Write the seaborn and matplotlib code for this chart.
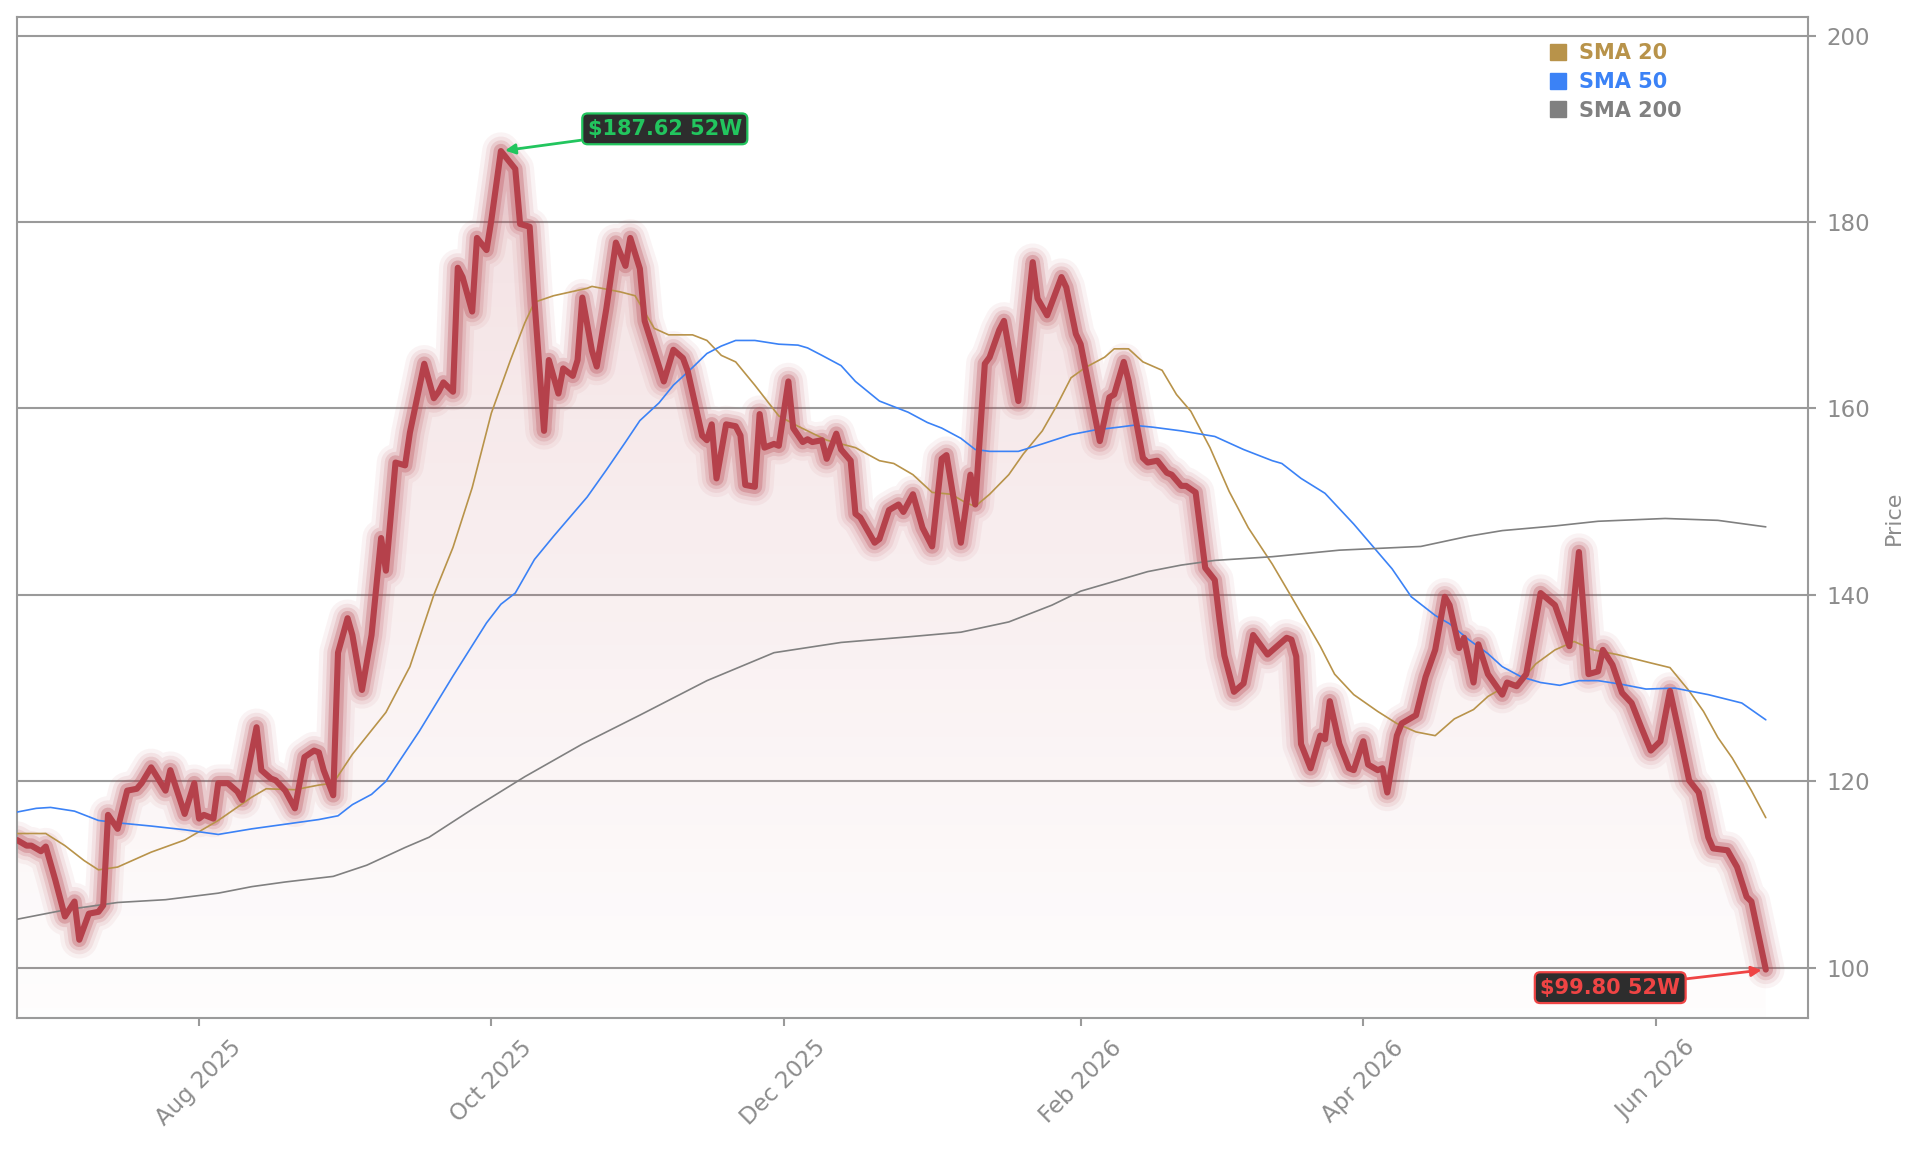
import matplotlib
matplotlib.use("Agg")
import matplotlib.pyplot as plt
import matplotlib.dates as mdates
from matplotlib.colors import to_rgb
from matplotlib.lines import Line2D
import numpy as np
import pandas as pd
import seaborn as sns

# ---- data ----
start_date = "2025-06-24"

price_day = [0, 2, 3, 5, 6, 8, 10, 12, 13, 15, 17, 18, 19, 21, 23, 25, 26, 28, 31, 32,
             35, 37, 38, 39, 41, 42, 44, 46, 47, 50, 51, 53, 54, 56, 58, 60, 62, 63, 64, 66,
             67, 69, 70, 72, 74, 76, 77, 79, 81, 82, 85, 87, 88, 89, 91, 92, 93, 95, 96, 98,
             99, 101, 104, 105, 107, 108, 110, 111, 113, 114, 116, 117, 118, 120, 121, 123, 125, 127, 128, 130,
             131, 135, 137, 139, 140, 143, 144, 145, 146, 148, 150, 151, 152, 154, 155, 156, 158, 159, 161, 162,
             164, 165, 166, 168, 169, 171, 172, 174, 175, 176, 179, 180, 182, 184, 185, 187, 189, 191, 193, 194,
             197, 199, 200, 202, 203, 205, 206, 209, 212, 213, 215, 218, 219, 221, 222, 226, 228, 229, 231, 232,
             235, 236, 238, 240, 241, 243, 244, 246, 248, 250, 251, 252, 254, 256, 258, 261, 265, 266, 267, 268,
             270, 272, 273, 274, 276, 278, 279, 281, 282, 284, 285, 286, 288, 289, 292, 294, 296, 298, 299, 301,
             302, 304, 305, 307, 310, 311, 313, 315, 318, 321, 324, 326, 328, 330, 331, 333, 335, 337, 339, 341,
             343, 345, 347, 349, 351, 353, 354, 357, 359, 361, 362, 365]
price_val = [113.7, 113.1, 113.1, 112.5, 113.0, 109.4, 105.5, 107.1, 103.0, 105.8, 106.0, 106.7, 116.4, 114.9, 119.0, 119.2, 119.8, 121.5, 119.0, 121.2,
             116.5, 119.8, 116.0, 116.4, 116.0, 119.8, 119.8, 118.9, 118.0, 125.8, 121.2, 120.3, 120.1, 119.0, 117.1, 122.6, 123.3, 123.1, 121.2, 118.5,
             133.8, 137.5, 135.7, 129.8, 135.7, 146.1, 142.6, 154.2, 153.9, 157.4, 164.8, 161.1, 161.8, 162.8, 161.8, 175.1, 174.1, 170.4, 178.3, 177.0,
             180.2, 187.62, 185.7, 179.8, 179.5, 171.6, 157.6, 165.2, 161.6, 164.3, 163.5, 165.2, 171.9, 166.2, 164.5, 170.7, 177.8, 175.3, 178.3, 175.0,
             169.4, 162.9, 166.3, 165.4, 164.0, 157.1, 156.6, 158.3, 152.5, 158.3, 158.1, 157.1, 151.8, 151.6, 159.4, 155.8, 156.2, 156.0, 162.9, 157.9,
             156.4, 156.7, 156.4, 156.6, 154.6, 157.3, 155.6, 154.4, 148.7, 148.3, 145.6, 146.0, 149.1, 149.7, 148.9, 150.8, 147.2, 145.2, 154.6, 155.0,
             145.6, 152.9, 149.7, 164.8, 165.5, 168.4, 169.4, 160.8, 175.7, 171.8, 170.0, 174.1, 173.0, 168.0, 166.9, 156.5, 161.2, 161.5, 165.0, 163.0,
             154.7, 154.2, 154.4, 153.1, 152.9, 151.7, 151.7, 151.0, 142.9, 141.6, 137.3, 133.5, 129.6, 130.5, 135.7, 133.6, 135.4, 135.2, 133.4, 124.0,
             121.4, 124.9, 124.5, 128.6, 124.0, 121.4, 121.2, 124.3, 121.8, 121.2, 121.4, 118.8, 124.9, 126.2, 127.1, 131.2, 134.1, 139.8, 138.9, 134.3,
             135.4, 130.6, 134.7, 131.5, 129.3, 130.6, 130.2, 131.5, 140.2, 138.9, 134.5, 144.6, 131.5, 131.8, 134.1, 132.5, 129.5, 128.4, 125.8, 123.3,
             124.3, 129.7, 125.0, 120.1, 118.8, 114.0, 112.8, 112.6, 110.8, 107.6, 107.1, 99.8]

sma20_day = [0, 6, 10, 14, 17, 21, 28, 35, 42, 49, 52, 58, 63, 66, 70, 77, 82, 87, 91, 95,
             99, 103, 106, 108, 112, 119, 120, 126, 129, 133, 136, 141, 144, 147, 150, 154, 159, 163, 169, 175,
             180, 183, 187, 191, 195, 198, 200, 203, 207, 210, 214, 217, 220, 223, 227, 229, 232, 235, 239, 242,
             245, 249, 253, 257, 262, 266, 272, 275, 279, 284, 288, 292, 296, 300, 304, 307, 310, 314, 317, 321,
             325, 329, 334, 341, 345, 349, 352, 355, 358, 362, 365]
sma20_val = [114.4, 114.4, 113.1, 111.5, 110.5, 110.8, 112.4, 113.7, 115.8, 118.3, 119.2, 119.1, 119.6, 119.8, 122.9, 127.4, 132.3, 140.0, 145.1, 151.5,
             159.5, 165.2, 169.2, 171.4, 172.1, 172.9, 173.1, 172.5, 172.1, 168.6, 167.9, 167.9, 167.3, 165.7, 165.0, 162.5, 159.2, 158.1, 156.6, 155.8,
             154.4, 154.1, 152.9, 151.0, 150.8, 149.9, 149.5, 150.8, 152.9, 155.1, 157.6, 160.3, 163.3, 164.4, 165.5, 166.4, 166.4, 165.0, 164.1, 161.5,
             159.7, 155.8, 151.1, 147.2, 143.3, 139.8, 134.5, 131.5, 129.3, 127.5, 126.2, 125.3, 124.9, 126.7, 127.7, 129.1, 130.0, 130.8, 132.6, 134.1,
             135.0, 134.1, 133.6, 132.7, 132.2, 129.7, 127.5, 124.7, 122.5, 119.0, 116.1]

sma50_day = [0, 4, 7, 12, 17, 22, 28, 35, 42, 49, 56, 63, 67, 70, 74, 77, 84, 91, 98, 101,
             104, 108, 112, 119, 123, 127, 130, 134, 137, 141, 144, 147, 150, 154, 159, 163, 165, 168, 172, 175,
             180, 182, 186, 190, 193, 197, 200, 203, 209, 214, 220, 225, 230, 233, 237, 243, 250, 256, 262, 264,
             268, 273, 279, 283, 287, 291, 296, 299, 303, 307, 310, 314, 318, 322, 326, 330, 335, 340, 346, 353,
             360, 365]
sma50_val = [116.7, 117.1, 117.2, 116.8, 115.8, 115.5, 115.2, 114.8, 114.3, 114.9, 115.4, 115.9, 116.3, 117.5, 118.6, 120.0, 125.4, 131.3, 137.0, 139.0,
             140.2, 143.8, 146.3, 150.5, 153.4, 156.4, 158.7, 160.6, 162.5, 164.4, 165.9, 166.7, 167.3, 167.3, 166.9, 166.8, 166.5, 165.7, 164.6, 162.9,
             160.8, 160.4, 159.6, 158.5, 157.9, 156.8, 155.6, 155.4, 155.4, 156.2, 157.2, 157.7, 158.0, 158.2, 158.0, 157.6, 157.0, 155.6, 154.4, 154.1,
             152.5, 150.9, 147.6, 145.2, 142.8, 139.8, 137.8, 136.9, 135.2, 133.7, 132.3, 131.2, 130.6, 130.3, 130.8, 130.8, 130.4, 129.9, 130.0, 129.3,
             128.4, 126.6]

sma200_day = [0, 10, 21, 31, 42, 49, 56, 66, 73, 81, 86, 95, 106, 118, 130, 144, 158, 172, 186, 197,
              207, 216, 222, 230, 236, 243, 250, 262, 276, 293, 303, 310, 321, 330, 344, 355, 365]
sma200_val = [105.2, 106.2, 107.0, 107.3, 108.0, 108.7, 109.2, 109.8, 111.0, 112.9, 114.0, 117.0, 120.5, 124.0, 127.1, 130.8, 133.8, 134.9, 135.5, 136.0,
              137.1, 138.9, 140.4, 141.6, 142.5, 143.2, 143.7, 144.1, 144.8, 145.2, 146.3, 146.9, 147.4, 147.9, 148.2, 148.0, 147.3]

sma_labels = ["SMA 20", "SMA 50", "SMA 200"]
sma_colors = ["#b8934a", "#3b82f6", "#808080"]
price_color = "#b5414b"
high_label = "$187.62 52W"
low_label = "$99.80 52W"
y_ticks = [100, 120, 140, 160, 180, 200]

# ---- style ----
grey = "#8c8c8c"
line_grey = "#9a9a9a"
sns.set_theme(style="white")
plt.rcParams["font.family"] = ["DejaVu Sans"]


def to_dates(days):
    return pd.Timestamp(start_date) + pd.to_timedelta(days, unit="D")


price_df = pd.DataFrame({"Date": to_dates(price_day), "Price": price_val})
sma_dfs = [
    pd.DataFrame({"Date": to_dates(sma20_day), "Value": sma20_val}),
    pd.DataFrame({"Date": to_dates(sma50_day), "Value": sma50_val}),
    pd.DataFrame({"Date": to_dates(sma200_day), "Value": sma200_val}),
]

fig = plt.figure(figsize=(19.21, 11.51), dpi=100)
ax = fig.add_axes([0.00885, 0.1155, 0.9323, 0.8697])

y_low, y_high = 94.6, 202.0

# glow around the price line
for lw, a in [(27, 0.06), (21, 0.09), (15.5, 0.15), (10.5, 0.27)]:
    sns.lineplot(data=price_df, x="Date", y="Price", color=price_color, lw=lw, alpha=a,
                 ax=ax, legend=False, zorder=2, solid_joinstyle="round", solid_capstyle="round")

for df, c in zip(sma_dfs, sma_colors):
    sns.lineplot(data=df, x="Date", y="Value", color=c, lw=1.2, ax=ax, legend=False, zorder=3)

sns.lineplot(data=price_df, x="Date", y="Price", color=price_color, lw=4.4, ax=ax,
             legend=False, zorder=4, solid_joinstyle="round")

# gradient fill under the price line
xnum = mdates.date2num(price_df["Date"])
grad = np.zeros((256, 1, 4))
grad[..., :3] = to_rgb(price_color)
grad[..., 3] = np.linspace(0.01, 0.16, 256)[:, None]
im = ax.imshow(grad, extent=[xnum[0], xnum[-1], y_low, max(price_val)], origin="lower",
               aspect="auto", zorder=1)
poly = ax.fill_between(xnum, price_val, y_low, facecolor="none", edgecolor="none")
im.set_clip_path(poly.get_paths()[0], transform=ax.transData)

ax.set_xlim(pd.Timestamp(start_date), pd.Timestamp(start_date) + pd.Timedelta(days=373.8))
ax.set_ylim(y_low, y_high)

# axes styling
ax.set_facecolor("white")
ax.yaxis.tick_right()
ax.yaxis.set_label_position("right")
ax.set_yticks(y_ticks)
ax.yaxis.grid(True, color=line_grey, lw=1.5)
ax.xaxis.grid(False)
ax.set_axisbelow(True)
for s in ax.spines.values():
    s.set_color(line_grey)
    s.set_linewidth(1.5)
ax.tick_params(axis="both", length=6, width=1.5, color=line_grey, labelcolor=grey,
               labelsize=16.5, pad=7, bottom=True, right=True, left=False)
ax.xaxis.set_major_locator(mdates.MonthLocator(bymonth=[2, 4, 6, 8, 10, 12]))
ax.xaxis.set_major_formatter(mdates.DateFormatter("%b %Y"))
plt.setp(ax.get_xticklabels(), rotation=45)
ax.set_xlabel("")
ax.set_ylabel("Price", fontsize=16, color=grey, labelpad=10)

# legend
handles = [Line2D([], [], marker="s", linestyle="none", color=c, markersize=12) for c in sma_colors]
leg = ax.legend(handles, sma_labels, loc="upper left", bbox_to_anchor=(0.8545, 0.974),
                frameon=False, borderpad=0, borderaxespad=0, handlelength=1.0,
                handletextpad=0.5, labelspacing=0.42,
                prop={"size": 15, "weight": "bold"})
for t, c in zip(leg.get_texts(), sma_colors):
    t.set_color(c)

# 52-week high / low tags
hi_i = int(np.argmax(price_val))
lo_i = len(price_val) - 1
ax.annotate(high_label, xy=(price_df["Date"][hi_i], price_val[hi_i]), xytext=(118, 16),
            textcoords="offset points", ha="center", va="center", fontsize=15,
            fontweight="bold", color="#22c55e", zorder=6,
            bbox=dict(boxstyle="round,pad=0.26", fc="#2d2d2d", ec="#22c55e", lw=1.6),
            arrowprops=dict(arrowstyle="-|>", color="#22c55e", lw=2, shrinkA=0, shrinkB=3))
ax.annotate(low_label, xy=(price_df["Date"][lo_i], price_val[lo_i]), xytext=(-112, -13),
            textcoords="offset points", ha="center", va="center", fontsize=15,
            fontweight="bold", color="#ef4444", zorder=6,
            bbox=dict(boxstyle="round,pad=0.26", fc="#2d2d2d", ec="#ef4444", lw=1.6),
            arrowprops=dict(arrowstyle="-|>", color="#ef4444", lw=2, shrinkA=0, shrinkB=3))

fig.savefig("out.png", dpi=100, facecolor="white")
